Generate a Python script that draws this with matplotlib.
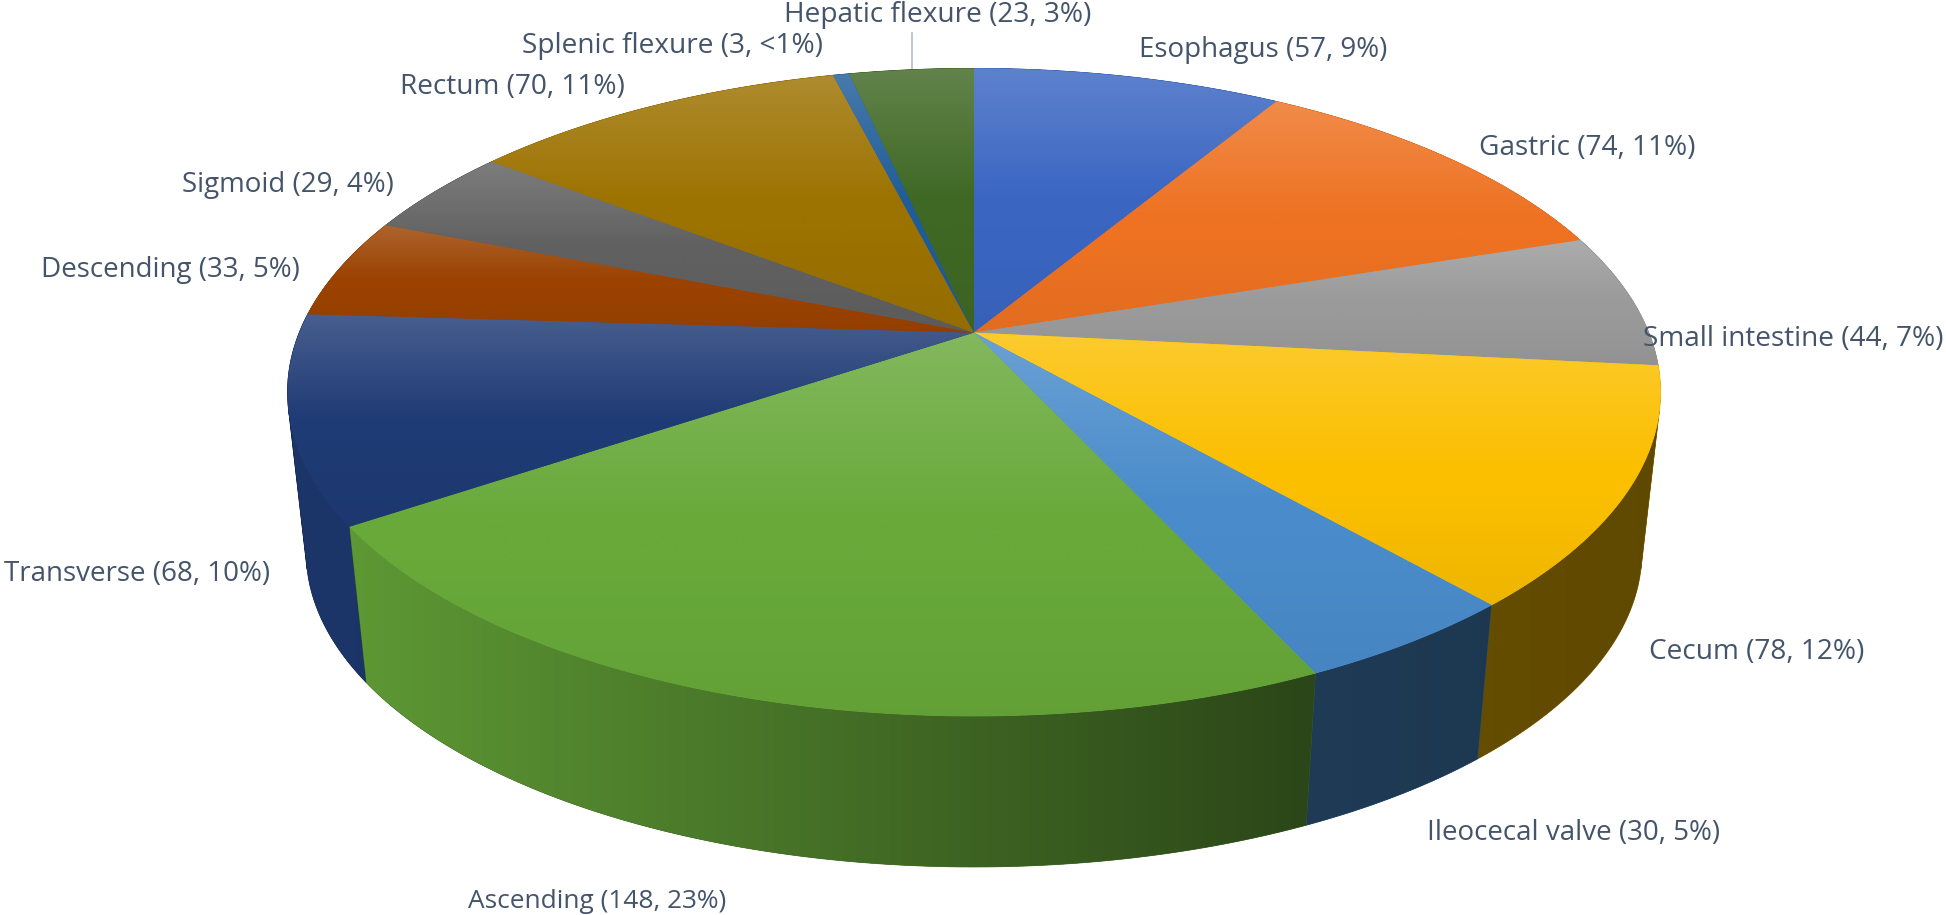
import numpy as np
import matplotlib
matplotlib.use('Agg')
import matplotlib.pyplot as plt
from matplotlib.colors import to_rgb
from matplotlib.patches import Polygon

# Data
sites = ['Esophagus', 'Gastric', 'Small intestine', 'Cecum', 'Ileocecal valve', 'Ascending',
         'Transverse', 'Descending', 'Sigmoid', 'Rectum', 'Splenic flexure', 'Hepatic flexure']
counts = [57, 74, 44, 78, 30, 148, 68, 33, 29, 70, 3, 23]
percents = ['9%', '11%', '7%', '12%', '5%', '23%', '10%', '5%', '4%', '11%', '<1%', '3%']
colors = ['#3A66C2', '#EE7222', '#9A9A9A', '#FBBF00', '#4A8CCB', '#68A93A',
          '#1F3B75', '#9B4200', '#606060', '#9C7200', '#1F5C9A', '#3F6824']

W, H = 1946, 915
plt.rcParams['font.family'] = ['Open Sans', 'DejaVu Sans']
fig = plt.figure(figsize=(W / 100, H / 100), dpi=100)
ax = fig.add_axes([0, 0, 1, 1])

# perspective of the pie plane, in pixels of the picture
cx, cy = 974, 332.6
a, b, k = 674.7, 312.8, 0.184
shrink, bottom_y = 0.973, 494


def top_ring(theta):
    X, Y = np.sin(theta), np.cos(theta)
    w = 1 + k * Y
    return cx + a * X / w, cy - b * Y / w


def bottom_ring(theta):
    x, y = top_ring(theta)
    return cx + shrink * (x - cx), bottom_y + shrink * (y - cy)


def silhouette_angles():
    # where the line from top ring to bottom ring just touches the rings
    th = np.linspace(0, 2 * np.pi, 20001)
    x, y = top_ring(th)
    bx, by = bottom_ring(th)
    cross = np.gradient(x) * (by - y) - np.gradient(y) * (bx - x)
    idx = np.where(np.sign(cross[1:-2]) != np.sign(cross[2:-1]))[0] + 1
    return th[idx]


def mix(c, other, t):
    return np.asarray(c) * (1 - t) + np.asarray(other) * t


def top_gradient(base, n=200):
    # light at the top of the slice, plain colour after about half, a bit darker at the end
    t = np.linspace(0, 1, n)
    light = np.clip(1 - t / 0.5, 0, 1) * 0.18
    dark = np.clip((t - 0.6) / 0.4, 0, 1) * 0.05
    rows = [mix(mix(base, (1, 1, 1), l), (0, 0, 0), d) for l, d in zip(light, dark)]
    return np.array(rows)[:, None, :]


def wall_gradient(base, x0, x1, n=200):
    xs = np.linspace(x0, x1, n)
    f = np.interp(xs, [350, 1300, 1660], [0.9, 0.42, 0.38])
    return np.array([np.asarray(base) * v for v in f])[None, :, :]


def gradient_patch(xs, ys, img, zorder):
    poly = Polygon(np.column_stack([xs, ys]), closed=True, fc='none', ec='none', zorder=zorder)
    ax.add_patch(poly)
    im = ax.imshow(img, extent=(min(xs), max(xs), max(ys), min(ys)), aspect='auto',
                   interpolation='bilinear', zorder=zorder)
    im.set_clip_path(poly)


edges = np.cumsum([0] + counts) / sum(counts) * 2 * np.pi
tangents = silhouette_angles()

# outer walls, back slices first; a slice over the silhouette is cut in two there
pieces = []
for i in range(len(counts)):
    cuts = [t for t in tangents if edges[i] < t < edges[i + 1]]
    stops = [edges[i]] + cuts + [edges[i + 1]]
    for s0, s1 in zip(stops[:-1], stops[1:]):
        pieces.append((i, s0, s1))
pieces.sort(key=lambda p: -np.cos((p[1] + p[2]) / 2))

for n, (i, s0, s1) in enumerate(pieces):
    th = np.linspace(s0, s1, 200)
    tx, ty = top_ring(th)
    bx, by = bottom_ring(th)
    xs = np.r_[tx, bx[::-1]]
    ys = np.r_[ty, by[::-1]]
    base = to_rgb(colors[i])
    ax.fill(xs, ys, color=mix(base, (0, 0, 0), 0.45), lw=0.5, zorder=1 + n * 0.01)
    gradient_patch(xs, ys, wall_gradient(base, min(xs), max(xs)), 1 + n * 0.01 + 0.001)

# top faces
for i in range(len(counts)):
    th = np.linspace(edges[i], edges[i + 1], 200)
    tx, ty = top_ring(th)
    xs = np.r_[cx, tx]
    ys = np.r_[cy, ty]
    base = to_rgb(colors[i])
    ax.fill(xs, ys, color=base, lw=0.6, zorder=2)
    gradient_patch(xs, ys, top_gradient(base), 2.1 + i * 0.001)

# data labels: left edge, middle height in pixels, and font size
label_pos = [(1139, 50, 20), (1479, 148, 20.2), (1643, 339, 20.2), (1649, 652, 20.2), (1427, 833, 20),
             (468, 901, 18.9), (4, 574, 20), (41, 270, 20), (182, 185, 20), (400, 87, 20.2),
             (522, 46, 20.2), (784, 15, 20.2)]
for name, n, pct, (x, y, size) in zip(sites, counts, percents, label_pos):
    ax.text(x, y, f'{name} ({n}, {pct})', fontsize=size, color='#44546A', ha='left', va='center', zorder=5)

# leader line of the hepatic flexure label
ax.plot([912, 912], [33, 70], color='#B4BFCB', lw=1.2, zorder=0.5)

ax.set_xlim(0, W)
ax.set_ylim(H, 0)
ax.axis('off')
fig.savefig('out.png', dpi=100, facecolor='white')
